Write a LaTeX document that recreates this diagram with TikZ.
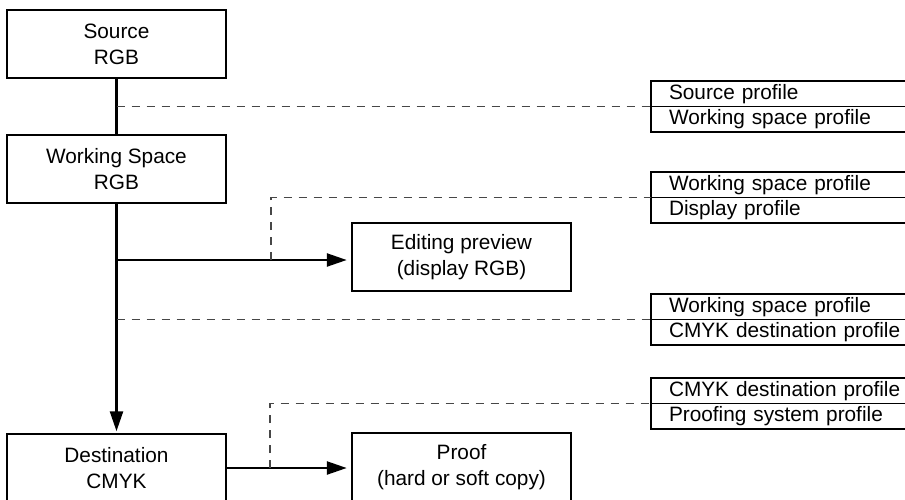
\documentclass[tikz,border=0pt]{standalone}
\usepackage{fontspec}
\setmainfont{Liberation Sans}
\usetikzlibrary{arrows.meta}
\begin{document}
\begin{tikzpicture}[x=1pt,y=-1pt,
  stage/.style={draw, line width=2.5pt, minimum width=219pt, minimum height=68pt,
    inner sep=0pt, align=center, font=\fontsize{20.8}{26}\selectfont},
  prow/.style={draw, line width=1.6pt, minimum height=25.5pt, inner ysep=0pt,
    inner xsep=18pt, outer sep=0pt, text width=250pt, align=left, anchor=north west,
    font=\fontsize{20.8}{24}\selectfont},
  flow/.style={line width=2.5pt, -{Triangle[length=20pt,width=13pt]}},
  link/.style={line width=2.5pt},
  guide/.style={draw=black!72, line width=1.5pt, dash pattern=on 8pt off 7pt}
]
\clip (0,0) rectangle (905,499);

% processing stages
\node[stage] (src)   at (116.5,44)  {Source\\RGB};
\node[stage] (ws)    at (116.5,169) {Working Space\\RGB};
\node[stage] (edit)  at (461.5,257) {Editing preview\\(display RGB)};
\node[stage] (dst)   at (116.5,468) {Destination\\CMYK};
\node[stage] (proof) at (461.5,467) {Proof\\(hard or soft copy)};

% profile pairs used by each conversion
\node[prow] (p1a) at (651,81)  {Source profile};
\node[prow] (p1b) at (p1a.south west) {Working space profile};
\node[prow] (p2a) at (651,172) {Working space profile};
\node[prow] (p2b) at (p2a.south west) {Display profile};
\node[prow] (p3a) at (651,294) {Working space profile};
\node[prow] (p3b) at (p3a.south west) {CMYK destination profile};
\node[prow] (p4a) at (651,378) {CMYK destination profile};
\node[prow] (p4b) at (p4a.south west) {Proofing system profile};

% junctions on the preview and proof branches
\coordinate (tap1) at (271,260);
\coordinate (tap2) at (270,468);

% main flow
\draw[link] (src.south) -- (ws.north);
\draw[flow, shorten >=1.5pt] (ws.south) -- (dst.north);
\draw[flow, shorten >=4pt] (ws.south |- tap1) -- (edit.west |- tap1);
\draw[flow, shorten >=4pt] (dst.east |- tap2) -- (proof.west |- tap2);

% profile references
\draw[guide] (src.south |- p1a.south west) -- (p1a.south west);
\draw[guide] (tap1) |- (p2a.south west);
\draw[guide] (ws.south |- p3a.south west) -- (p3a.south west);
\draw[guide] (tap2) |- (p4a.south west);
\end{tikzpicture}
\end{document}
